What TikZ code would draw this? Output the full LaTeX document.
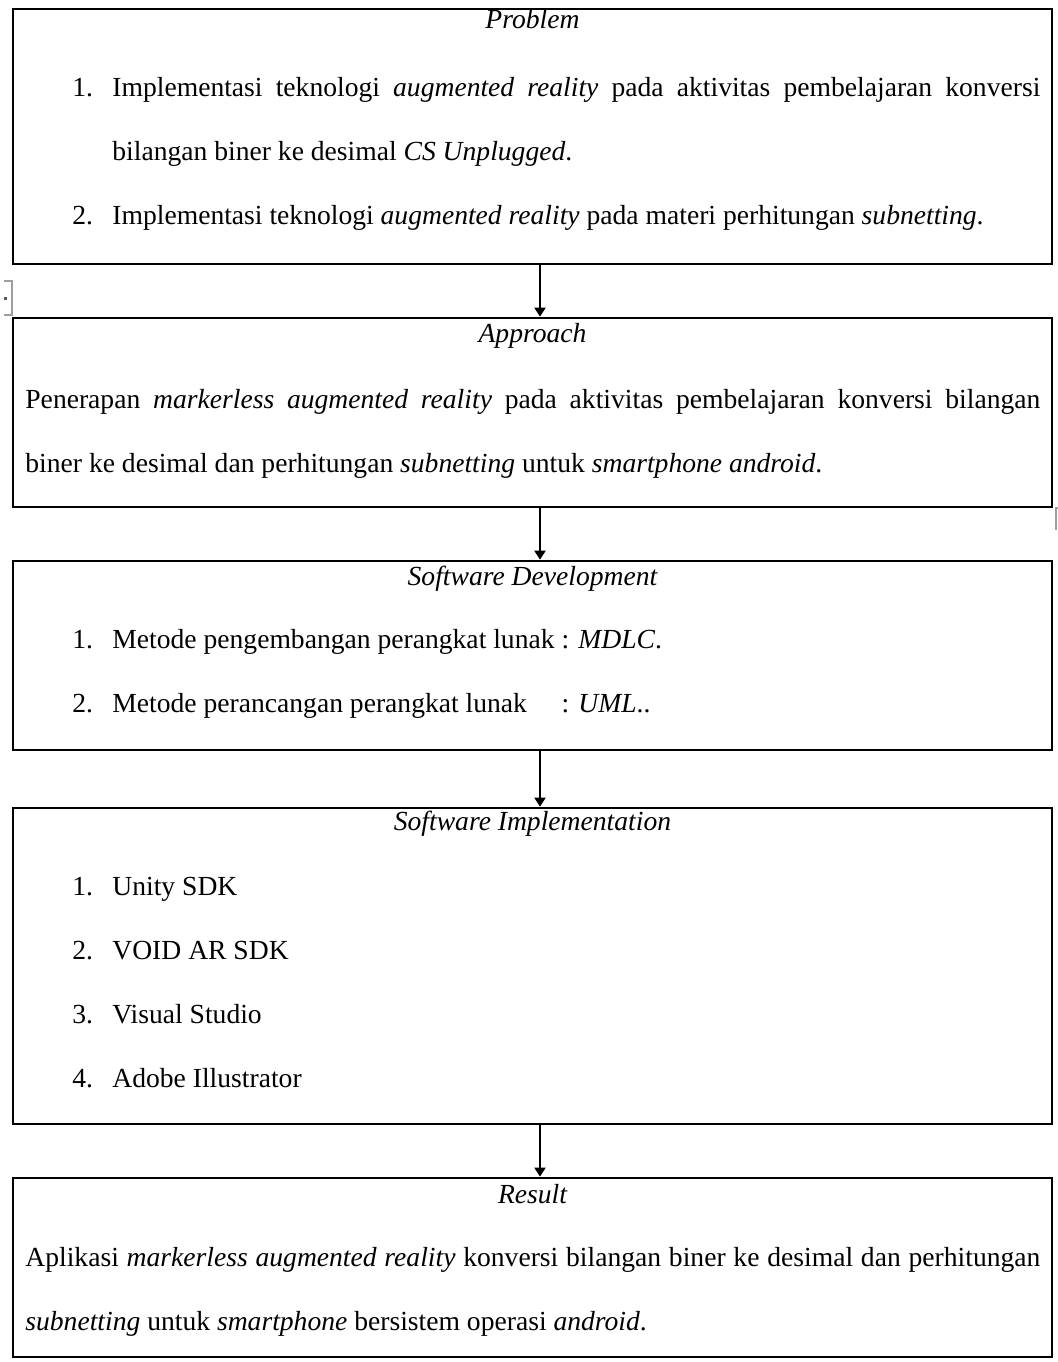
\documentclass[tikz,border=0pt]{standalone}
\usepackage{fontspec}
\setmainfont{Liberation Serif}
\usetikzlibrary{arrows.meta}
\newcommand\bset{\tolerance=9999\relax\hbadness=10000\relax\hyphenpenalty=10000\relax\spaceskip=0.25em plus 0.5em minus 0.1em\relax}
\newcommand\itm[1]{\makebox[20pt][l]{#1}}
\begin{document}
\begin{tikzpicture}[x=0.5pt,y=-0.5pt,
  box/.style={draw, line width=1.35pt, rectangle, inner sep=0pt, minimum width=519.5pt},
  ttl/.style={inner sep=0pt, anchor=base, font=\fontsize{13.8pt}{32pt}\selectfont\itshape},
  body/.style={inner sep=0pt, anchor=base west, align=justify,
    font=\fontsize{13.8pt}{32pt}\selectfont},
  arr/.style={line width=1pt, -{Triangle[length=4.5pt,width=5.5pt]}},
  artifact/.style={draw=black!38, line width=1pt}
]
\useasboundingbox (0,0) rectangle (1057,1362);
\coordinate (ax) at (540,0);

% boxes
\node[box, minimum height=127.5pt] (b1) at (532.5,136.5) {};
\node[box, minimum height=94.5pt] (b2) at (532.5,412.5) {};
\node[box, minimum height=94.5pt] (b3) at (532.5,655.5) {};
\node[box, minimum height=158pt] (b4) at (532.5,966) {};
\node[box, minimum height=89.5pt] (b5) at (532.5,1267.5) {};

% Problem
\node[ttl] (t1) at (532.5,28) {Problem};
\node[body, text width=484pt] (p1) at (72,96) {\bset
\hangindent=20pt\hangafter=1\noindent\itm{1.}Implementasi teknologi \textit{augmented reality} pada aktivitas pembelajaran konversi\linebreak bilangan biner ke desimal \textit{CS Unplugged}.\par
\hangindent=20pt\hangafter=1\noindent\itm{2.}Implementasi teknologi \textit{augmented reality} pada materi perhitungan \textit{subnetting}.\par};

% Approach
\node[ttl] (t2) at (532.5,342) {Approach};
\node[body, text width=507.5pt] (p2) at (25,408) {\bset
\noindent Penerapan \textit{markerless augmented reality} pada aktivitas pembelajaran konversi bilangan\linebreak biner ke desimal dan perhitungan \textit{subnetting} untuk \textit{smartphone android}.\par};

% Software Development
\node[ttl] (t3) at (532.5,585) {Software Development};
\node[body, text width=484pt] (p3) at (72,648) {\bset
\noindent\itm{1.}Metode pengembangan perangkat lunak : \textit{MDLC}.\par
\noindent\itm{2.}\rlap{Metode perancangan perangkat lunak}\hphantom{Metode pengembangan perangkat lunak} : \textit{UML}..\par};

% Software Implementation
\node[ttl] (t4) at (532.5,830) {Software Implementation};
\node[body, text width=484pt] (p4) at (72,895) {\bset
\noindent\itm{1.}Unity SDK\par
\noindent\itm{2.}VOID AR SDK\par
\noindent\itm{3.}Visual Studio\par
\noindent\itm{4.}Adobe Illustrator\par};

% Result
\node[ttl] (t5) at (532.5,1203) {Result};
\node[body, text width=507.5pt] (p5) at (25,1266) {\bset
\noindent Aplikasi \textit{markerless augmented reality} konversi bilangan biner ke desimal dan perhitungan\linebreak \textit{subnetting} untuk \textit{smartphone} bersistem operasi \textit{android}.\par};

% connectors
\draw[arr] (b1.south -| ax) -- (b2.north -| ax);
\draw[arr] (b2.south -| ax) -- (b3.north -| ax);
\draw[arr] (b3.south -| ax) -- (b4.north -| ax);
\draw[arr] (b4.south -| ax) -- (b5.north -| ax);

% small editor marks
\draw[artifact] (4,281) -- (11.5,281) -- (11.5,315) -- (4,315);
\fill[black!65] (4,296.5) rectangle (7,299.5);
\draw[artifact] (1058,508) -- (1055.5,508) -- (1055.5,530);
\end{tikzpicture}
\end{document}
